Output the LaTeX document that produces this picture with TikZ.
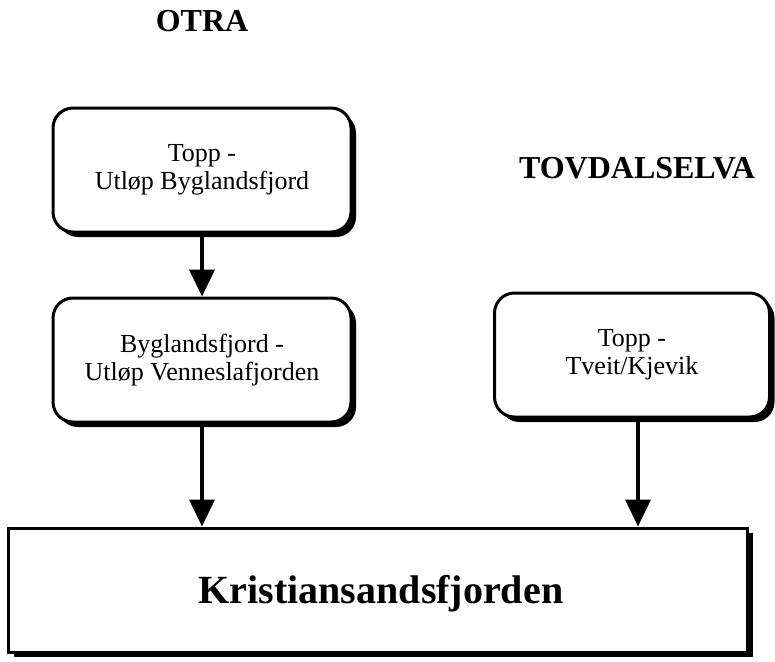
\documentclass[tikz,border=0pt]{standalone}
\usepackage{fontspec}
\setmainfont{Liberation Serif}
\usetikzlibrary{arrows.meta,shadows}
\begin{document}
\begin{tikzpicture}[x=1pt,y=-1pt,
  rbox/.style={draw,line width=3pt,rounded corners=20pt,fill=white,
    minimum width=298pt,minimum height=124pt,align=center,
    font=\fontsize{26}{28}\selectfont,
    drop shadow={shadow xshift=5pt,shadow yshift=-5pt,fill=black,opacity=1}},
  bigbox/.style={draw,line width=3pt,fill=white,
    minimum width=739pt,minimum height=124pt,
    drop shadow={shadow xshift=5pt,shadow yshift=-5pt,fill=black,opacity=1}},
  title/.style={font=\fontsize{32}{36}\selectfont\bfseries,anchor=base},
  arr/.style={line width=4pt,-{Triangle[length=27pt,width=25pt]}}]
\useasboundingbox (0,0) rectangle (775,661);
\node[title] (otra) at (202,32) {OTRA};
\node[title] (tov) at (637,178) {TOVDALSELVA};
\node[rbox] (b1) at (202,170) {Topp -\\Utløp Byglandsfjord};
\node[rbox] (b2) at (202,360) {Byglandsfjord -\\Utløp Venneslafjorden};
\node[rbox,minimum width=275pt] (b3) at (632,355) {Topp -\\Tveit/Kjevik};
\node[bigbox] (k) at (378,590) {};
\node[font=\fontsize{40}{44}\selectfont\bfseries,anchor=base] (kt) at (381,603) {Kristiansandsfjorden};
\draw[arr] (b1.south) -- (b2.north);
\draw[arr] (b2.south) -- (b2.south |- k.north);
\draw[arr] ([xshift=6pt]b3.south) -- ([xshift=6pt]b3.south |- k.north);
\end{tikzpicture}
\end{document}
